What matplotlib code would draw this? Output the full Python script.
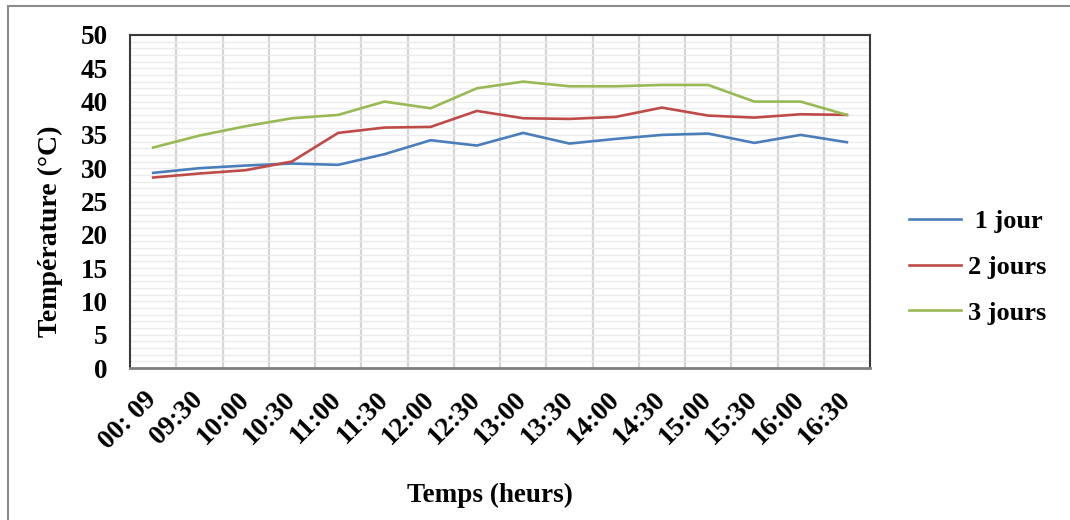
import matplotlib.pyplot as plt
from matplotlib.patches import Rectangle
from matplotlib.ticker import MultipleLocator


time_labels = ["00: 09", "09:30", "10:00", "10:30", "11:00", "11:30", "12:00", "12:30",
               "13:00", "13:30", "14:00", "14:30", "15:00", "15:30", "16:00", "16:30"]

temp_1_jour = [29.3, 30.0, 30.4, 30.7, 30.5, 32.1, 34.2, 33.4,
               35.3, 33.7, 34.4, 35.0, 35.2, 33.8, 35.0, 33.9]
temp_2_jours = [28.6, 29.2, 29.7, 31.0, 35.3, 36.1, 36.2, 38.6,
                37.5, 37.4, 37.7, 39.1, 37.9, 37.6, 38.1, 38.0]
temp_3_jours = [33.1, 34.9, 36.3, 37.5, 38.0, 40.0, 39.0, 42.0,
                43.0, 42.3, 42.3, 42.5, 42.5, 40.0, 40.0, 38.0]

series_names = [" 1 jour", "2 jours", "3 jours"]
series_colors = ["#4a7ebb", "#be4b48", "#98b954"]

FONT = "Liberation Serif"


def main():
    W, H = 1070, 520
    fig = plt.figure(figsize=(W / 100, H / 100), dpi=100)
    ax = fig.add_axes([130 / W, (H - 368) / H, 740 / W, 333 / H])

    # chart area border
    fig.patches.append(Rectangle((8 / W, -0.01), 1.0, (H - 6) / H + 0.01,
                                 transform=fig.transFigure, fill=False,
                                 edgecolor="#8c8c8c", linewidth=1.5))

    x = list(range(len(time_labels)))
    for values, name, color in zip([temp_1_jour, temp_2_jours, temp_3_jours],
                                   series_names, series_colors):
        ax.plot(x, values, color=color, linewidth=1.9, label=name, zorder=3)

    ax.set_xlim(-0.5, len(time_labels) - 0.5)
    ax.set_ylim(0, 50)
    ax.yaxis.set_major_locator(MultipleLocator(5))
    ax.yaxis.set_minor_locator(MultipleLocator(1))
    ax.set_xticks(x)
    ax.set_xticks([i + 0.5 for i in x[:-1]], minor=True)

    ax.grid(axis="y", which="both", color="#ececec", linewidth=1.0, zorder=0)
    ax.grid(axis="x", which="minor", color="#d4d4d4", linewidth=1.6, zorder=0)
    ax.set_axisbelow(True)

    ax.tick_params(which="both", length=0)
    ax.tick_params(axis="y", pad=16)
    ax.tick_params(axis="x", pad=20)

    ax.set_xticklabels(time_labels, rotation=45, ha="right", va="center",
                       rotation_mode="anchor", fontfamily=FONT,
                       fontweight="bold", fontsize=19.5)
    for label in ax.get_yticklabels():
        label.set_fontfamily(FONT)
        label.set_fontweight("bold")
        label.set_fontsize(19.5)

    for side in ["left", "top", "right"]:
        ax.spines[side].set_color("#3a3a3a")
        ax.spines[side].set_linewidth(1.5)
    ax.spines["bottom"].set_color("#7f7f7f")
    ax.spines["bottom"].set_linewidth(2)

    fig.text(50 / W, 1 - 231 / H, "Température (°C)", rotation=90,
             ha="center", va="center", fontfamily=FONT, fontweight="bold",
             fontsize=20)
    fig.text(490 / W, 1 - 495 / H, "Temps (heurs)", ha="center", va="center",
             fontfamily=FONT, fontweight="bold", fontsize=19.5)

    ax.legend(loc="center left", bbox_to_anchor=(898 / W, 1 - 267 / H),
              bbox_transform=fig.transFigure, frameon=False, borderaxespad=0,
              prop={"family": FONT, "weight": "bold", "size": 19},
              handlelength=2.0, handletextpad=0.25, labelspacing=0.85)

    fig.savefig("out.png", dpi=100)
    plt.close(fig)


if __name__ == "__main__":
    main()
